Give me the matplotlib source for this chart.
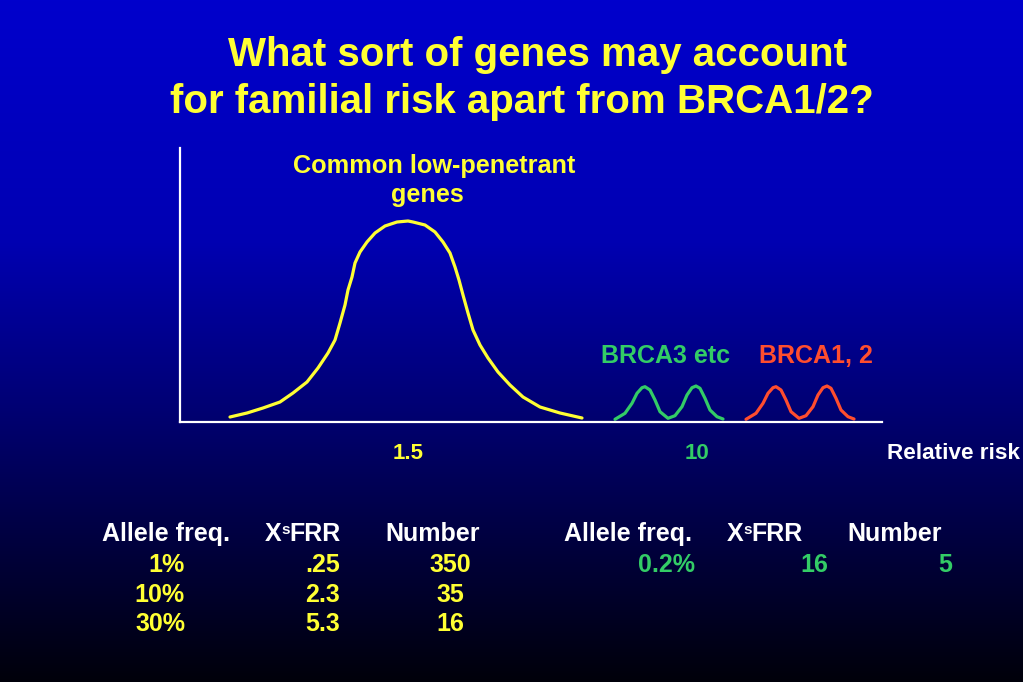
import numpy as np
import matplotlib
matplotlib.use('agg')
import matplotlib.pyplot as plt
from matplotlib.colors import LinearSegmentedColormap

plt.rcParams['font.family'] = ['Liberation Sans', 'DejaVu Sans']
plt.rcParams['font.weight'] = 'bold'

YELLOW = '#ffff33'
GREEN = '#33cc66'
RED = '#ff4d2e'

# curves (x, height above the baseline)
common_x = [50, 67, 83, 100, 113, 127, 138, 148, 155, 160, 165, 168, 172,
            175, 180, 187, 195, 205, 217, 228, 233, 245, 255, 263, 270,
            275, 279, 283, 288, 293, 300, 308, 318, 330, 343, 360, 380, 402]
common_y = [5, 9, 14, 20, 29, 40, 54, 69, 82, 99, 117, 132, 145,
            159, 170, 180, 189, 196, 200, 201, 200, 197, 190, 180, 169,
            155, 142, 127, 109, 92, 77, 64, 50, 37, 25, 15, 9, 4]
brca3_x = [435, 445, 452, 457, 462, 465, 470, 475, 480, 488,
           495, 502, 507, 512, 516, 520, 525, 530, 537, 543]
brca3_y = [2.7, 8.7, 18.7, 28.7, 34.3, 35.3, 32, 22, 10.3, 3.7,
           6.3, 15.3, 27, 34.3, 36, 33.7, 23.7, 12, 5.3, 3]
brca12_x = [566, 576, 583, 588, 593, 596, 601, 606, 611, 619,
            626, 633, 638, 643, 647, 651, 656, 661, 668, 674]
brca12_y = [2.7, 8.7, 18.7, 28.7, 34.3, 35.3, 32, 22, 10.3, 3.7,
            6.3, 15.3, 27, 34.3, 36, 33.7, 23.7, 12, 5.3, 3]

tick_pos = [228, 517]
tick_labels = ['1.5', '10']
tick_colors = [YELLOW, GREEN]

common_freq = ['1%', '10%', '30%']
common_xsfrr = ['.25', '2.3', '5.3']
common_number = ['350', '35', '16']
brca3_freq = ['0.2%']
brca3_xsfrr = ['16']
brca3_number = ['5']

W, H = 1023, 682
fig = plt.figure(figsize=(W / 100, H / 100), dpi=100)

# background gradient
bg = fig.add_axes([0, 0, 1, 1])
cmap = LinearSegmentedColormap.from_list('bg', [
    (0.0, (0, 0, 0.80)), (0.35, (0, 0, 0.70)), (0.6, (0, 0, 0.45)),
    (0.8, (0, 0, 0.24)), (1.0, (0, 0, 0.04))])
grad = np.linspace(0, 1, 256).reshape(-1, 1)
bg.imshow(grad, aspect='auto', cmap=cmap, extent=(0, W, H, 0))
bg.set_xlim(0, W)
bg.set_ylim(H, 0)
bg.axis('off')

# chart
ax = fig.add_axes([180 / W, (H - 422) / H, 702 / W, 274 / H])
ax.patch.set_alpha(0)
ax.set_xlim(0, 702)
ax.set_ylim(0, 274)
for s in ['top', 'right']:
    ax.spines[s].set_visible(False)
for s in ['left', 'bottom']:
    ax.spines[s].set_color('white')
    ax.spines[s].set_linewidth(1.6)
ax.set_xticks([])
ax.set_yticks([])
ax.plot(common_x, common_y, color=YELLOW, lw=2.3, solid_joinstyle='round',
        solid_capstyle='round')
ax.plot(brca3_x, brca3_y, color=GREEN, lw=2.3, solid_joinstyle='round',
        solid_capstyle='round')
ax.plot(brca12_x, brca12_y, color=RED, lw=2.3, solid_joinstyle='round',
        solid_capstyle='round')

# texts (pixel coords)
bg.text(538, 66, 'What sort of genes may account', color=YELLOW,
        fontsize=29, ha='center', va='baseline')
bg.text(522, 113, 'for familial risk apart from BRCA1/2?', color=YELLOW,
        fontsize=29, ha='center', va='baseline')
bg.text(434, 173, 'Common low-penetrant', color=YELLOW, fontsize=18.2,
        ha='center', va='baseline')
bg.text(427, 202, 'genes', color=YELLOW, fontsize=18.2,
        ha='center', va='baseline')
bg.text(601, 363, 'BRCA3 etc', color=GREEN, fontsize=18, va='baseline')
bg.text(759, 363, 'BRCA1, 2', color=RED, fontsize=18, va='baseline')

for p, lab, c in zip(tick_pos, tick_labels, tick_colors):
    bg.text(180 + p, 459, lab, color=c, fontsize=16, ha='center',
            va='baseline')
bg.text(887, 459, 'Relative risk', color='white', fontsize=16.2,
        va='baseline')

# tables
fs = 18
head_y = 541
row_y = [572, 602, 631]
for xa, xx, xn in [(102, 265, 385), (564, 727, 847)]:
    bg.text(xa, head_y, 'Allele freq.', color='white', fontsize=fs,
            va='baseline')
    bg.text(xx, head_y, 'X', color='white', fontsize=fs, va='baseline')
    bg.text(xx + 16, head_y - 7, 's', color='white', fontsize=11,
            va='baseline')
    bg.text(xx + 24, head_y, 'FRR', color='white', fontsize=fs,
            va='baseline')
    bg.text(xn, head_y, 'Number', color='white', fontsize=fs,
            va='baseline')

for y, a, b, n in zip(row_y, common_freq, common_xsfrr, common_number):
    bg.text(185, y, a, color=YELLOW, fontsize=fs, ha='right',
            va='baseline')
    bg.text(340, y, b, color=YELLOW, fontsize=fs, ha='right',
            va='baseline')
    bg.text(450, y, n, color=YELLOW, fontsize=fs, ha='center',
            va='baseline')
for y, a, b, n in zip(row_y, brca3_freq, brca3_xsfrr, brca3_number):
    bg.text(695, y, a, color=GREEN, fontsize=fs, ha='right',
            va='baseline')
    bg.text(828, y, b, color=GREEN, fontsize=fs, ha='right',
            va='baseline')
    bg.text(952, y, n, color=GREEN, fontsize=fs, ha='right',
            va='baseline')

fig.savefig('out.png', dpi=100)
